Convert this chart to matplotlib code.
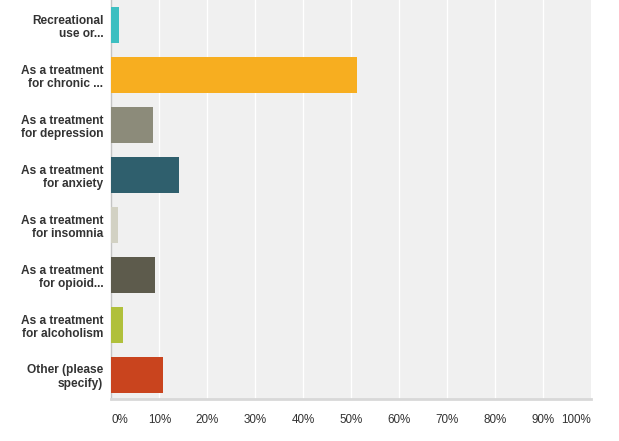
import matplotlib
matplotlib.use('Agg')
import matplotlib.pyplot as plt

# answer options (two-line labels as shown) and percent of respondents
labels = ['Recreational\nuse or...', 'As a treatment\nfor chronic ...', 'As a treatment\nfor depression',
          'As a treatment\nfor anxiety', 'As a treatment\nfor insomnia', 'As a treatment\nfor opioid...',
          'As a treatment\nfor alcoholism', 'Other (please\nspecify)']
values = [1.6, 51.1, 8.6, 14.1, 1.3, 9.1, 2.4, 10.7]
colours = ['#3dbfc1', '#f7ae20', '#8c8b7a', '#2f5f6d', '#d2d1c3', '#5d5b4c', '#b0c03b', '#c9441e']
ticks = [0, 10, 20, 30, 40, 50, 60, 70, 80, 90, 100]
tick_labels = ['0%', '10%', '20%', '30%', '40%', '50%', '60%', '70%', '80%', '90%', '100%']

plt.rcParams['font.family'] = ['Liberation Sans', 'DejaVu Sans']

fig = plt.figure(figsize=(6.19, 4.41), dpi=100, facecolor='white')
ax = fig.add_axes([111.5/619, 42/441, (591-111.5)/619, 399/441])
ax.set_facecolor('#f0f0f0')

pos = list(range(len(values)))
ax.barh(pos, values, height=0.72, color=colours, zorder=3)

ax.set_xlim(0, 100)
ax.set_ylim(7.48, -0.5)

# white vertical grid
for t in ticks[1:-1]:
	ax.axvline(t, color='white', lw=1, zorder=1)

for s in ['top', 'right']:
	ax.spines[s].set_visible(False)
ax.spines['left'].set_color('#c4c4c4')
ax.spines['left'].set_linewidth(1)
ax.spines['bottom'].set_color('#d8d8d8')
ax.spines['bottom'].set_linewidth(2)

ax.set_yticks(pos)
ax.set_yticklabels(labels, fontsize=8.6, fontweight='bold', color='#333333', linespacing=1.22)
ax.tick_params(axis='y', length=0, pad=6)

ax.set_xticks(ticks)
ax.set_xticklabels(tick_labels, fontsize=8.4, color='#333333')
ax.tick_params(axis='x', length=0, pad=11)
xl = ax.get_xticklabels()
xl[0].set_horizontalalignment('left')
xl[-1].set_horizontalalignment('right')

plt.savefig('out.png', dpi=100, facecolor='white')
